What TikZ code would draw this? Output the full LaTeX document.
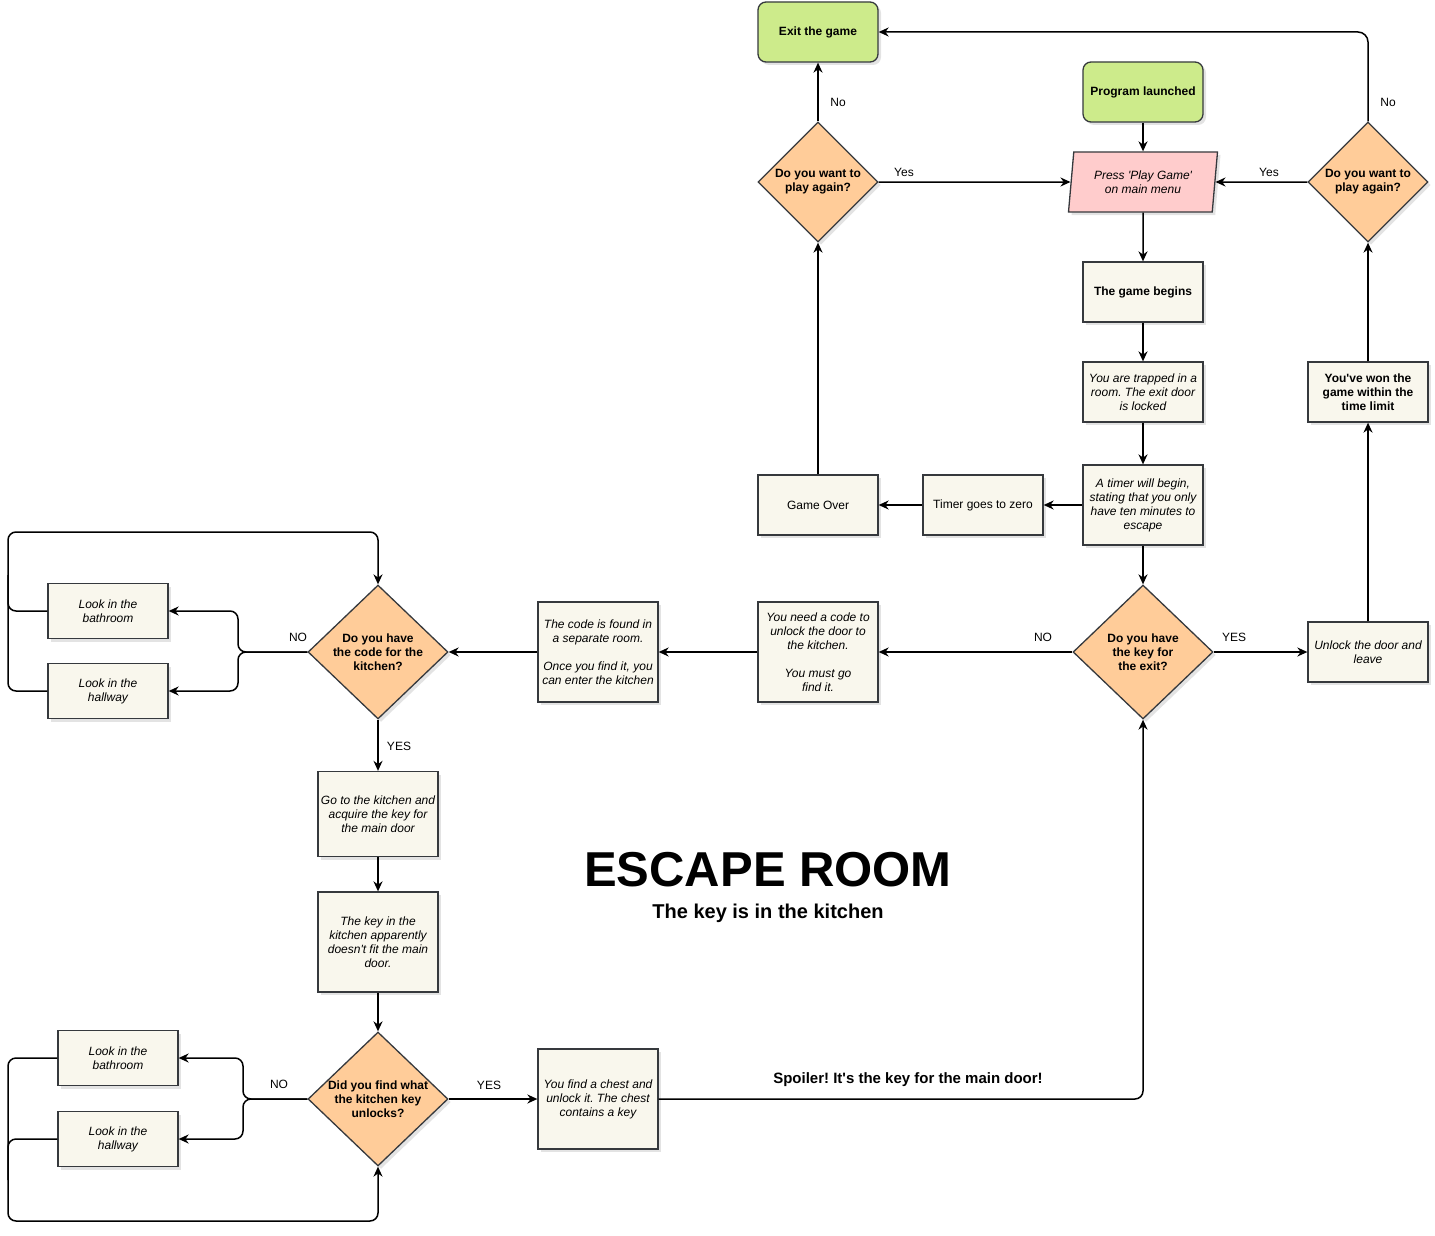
\documentclass[tikz,border=0pt]{standalone}
\usepackage{fontspec}
\setmainfont{Liberation Sans}
\usetikzlibrary{arrows.meta}
\usetikzlibrary{shapes.geometric}
\usetikzlibrary{shadows}

\definecolor{boxfill}{HTML}{F9F7ED}
\definecolor{boxline}{HTML}{36393D}
\definecolor{askfill}{HTML}{FFCC99}
\definecolor{gofill}{HTML}{CDEB8B}
\definecolor{menufill}{HTML}{FFCCCC}

\tikzset{
  base/.style={draw=boxline, line width=1.3pt, align=center,
    drop shadow={shadow xshift=3pt, shadow yshift=-3pt, opacity=0.22}},
  plainbox/.style={base, rectangle, fill=boxfill, minimum width=120pt, minimum height=60pt,
    inner sep=0pt, font=\fontsize{12}{14}\selectfont},
  boldbox/.style={plainbox, font=\fontsize{12}{14}\selectfont\bfseries},
  italbox/.style={plainbox, font=\fontsize{12}{14}\selectfont\itshape},
  terminal/.style={boldbox, fill=gofill, rounded corners=8pt},
  menu/.style={base, trapezium, trapezium left angle=77, trapezium right angle=103,
    trapezium stretches body, fill=menufill, minimum width=149pt, minimum height=60pt,
    inner sep=0pt, font=\fontsize{12}{14}\selectfont\itshape},
  ask/.style={base, diamond, fill=askfill, aspect=1, inner sep=-4pt,
    minimum width=120pt, minimum height=120pt, font=\fontsize{12}{14}\selectfont\bfseries},
  bigask/.style={ask, aspect=1.045, minimum width=140pt, minimum height=134pt},
  lbl/.style={font=\fontsize{12}{14}\selectfont, inner sep=1pt},
  line/.style={draw=black, line width=1.5pt},
  flow/.style={line, -{Stealth[length=10pt, width=9pt]}}
}

\begin{document}
\frenchspacing
\begin{tikzpicture}[x=1pt, y=-1pt]
    \useasboundingbox (0,0) rectangle (1435,1236);

    \node[terminal] (exit) at (818,32) {Exit the game};
    \node[terminal] (launch) at (1143,92) {Program launched};
    \node[menu] (press) at (1143,182) {Press \textquotesingle Play Game\textquotesingle\\on main menu};
    \node[ask] (again1) at (818,182) {Do you want to\\play again?};
    \node[ask] (again2) at (1368,182) {Do you want to\\play again?};
    \node[boldbox] (begins) at (1143,292) {The game begins};
    \node[italbox] (trapped) at (1143,392) {You are trapped in a\\room. The exit door\\is locked};
    \node[italbox, minimum height=80pt] (timer) at (1143,505) {A timer will begin,\\stating that you only\\have ten minutes to\\escape};
    \node[plainbox] (zero) at (983,505) {Timer goes to zero};
    \node[plainbox] (over) at (818,505) {Game Over};
    \node[boldbox] (won) at (1368,392) {You\textquotesingle ve won the\\game within the\\time limit};

    \node[bigask] (keyq) at (1143,652) {Do you have\\the key for\\the exit?};
    \node[italbox] (unlock) at (1368,652) {Unlock the door and\\leave};
    \node[italbox, minimum height=100pt] (needcode) at (818,652) {You need a code to\\unlock the door to\\the kitchen.\\[14pt]You must go\\find it.};
    \node[italbox, minimum height=100pt] (codefound) at (598,652) {The code is found in\\a separate room.\\[14pt]Once you find it, you\\can enter the kitchen};
    \node[bigask] (codeq) at (378,652) {Do you have\\the code for the\\kitchen?};
    \node[italbox, minimum height=55pt] (bath1) at (108,611) {Look in the\\bathroom};
    \node[italbox, minimum height=55pt] (hall1) at (108,691) {Look in the\\hallway};

    \node[italbox, minimum height=85pt] (kitchen) at (378,814) {Go to the kitchen and\\acquire the key for\\the main door};
    \node[italbox, minimum height=100pt] (keyfit) at (378,942) {The key in the\\kitchen apparently\\doesn\textquotesingle t fit the main\\door.};
    \node[bigask] (findq) at (378,1099) {Did you find what\\the kitchen key\\unlocks?};
    \node[italbox, minimum height=55pt] (bath2) at (118,1058) {Look in the\\bathroom};
    \node[italbox, minimum height=55pt] (hall2) at (118,1139) {Look in the\\hallway};
    \node[italbox, minimum height=100pt] (chest) at (598,1099) {You find a chest and\\unlock it. The chest\\contains a key};

    \node[font=\fontsize{49}{56}\selectfont\bfseries] (title) at (768,870) {ESCAPE ROOM};
    \node[font=\fontsize{20}{24}\selectfont\bfseries] (subtitle) at (768,913) {The key is in the kitchen};

    \coordinate (fork1) at (238,652);
    \coordinate (loop1) at (8,532);
    \coordinate (join1) at (8,575);
    \coordinate (fork2) at (243,1099);
    \coordinate (loop2) at (8,1221);
    \coordinate (join2) at (8,1180);

    \draw[flow] (launch) -- (press);
    \draw[flow] (press) -- (begins);
    \draw[flow] (begins) -- (trapped);
    \draw[flow] (trapped) -- (timer);
    \draw[flow] (timer) -- (zero);
    \draw[flow] (zero) -- (over);
    \draw[flow] (over) -- (again1);
    \draw[flow] (again1) -- (exit);
    \draw[flow] (again1) -- (press);
    \draw[flow] (again2) -- (press);
    \draw[flow, rounded corners=10pt] (again2.north) |- (exit.east);
    \draw[flow] (timer) -- (keyq);
    \draw[flow] (keyq) -- (unlock);
    \draw[flow] (unlock) -- (won);
    \draw[flow] (won) -- (again2);
    \draw[flow] (keyq) -- (needcode);
    \draw[flow] (needcode) -- (codefound);
    \draw[flow] (codefound) -- (codeq);
    \draw[flow, rounded corners=8pt] (codeq.west) -- (fork1) |- (bath1.east);
    \draw[flow, rounded corners=8pt] (codeq.west) -- (fork1) |- (hall1.east);
    \draw[flow, rounded corners=8pt] (hall1.west) -| (loop1) -| (codeq.north);
    \draw[line, rounded corners=8pt] (bath1.west) -| (join1);
    \draw[flow] (codeq) -- (kitchen);
    \draw[flow] (kitchen) -- (keyfit);
    \draw[flow] (keyfit) -- (findq);
    \draw[flow, rounded corners=8pt] (findq.west) -- (fork2) |- (bath2.east);
    \draw[flow, rounded corners=8pt] (findq.west) -- (fork2) |- (hall2.east);
    \draw[flow, rounded corners=8pt] (bath2.west) -| (loop2) -| (findq.south);
    \draw[line, rounded corners=8pt] (hall2.west) -| (join2);
    \draw[flow] (findq) -- (chest);
    \draw[flow, rounded corners=8pt] (chest.east) -| (keyq.south);

    \node[lbl] (no1) at (838,102) {No};
    \node[lbl] (yes1) at (904,172) {Yes};
    \node[lbl] (yes2) at (1269,172) {Yes};
    \node[lbl] (no2) at (1388,102) {No};
    \node[lbl] (no3) at (1043,637) {NO};
    \node[lbl] (yes3) at (1234,637) {YES};
    \node[lbl] (no4) at (298,637) {NO};
    \node[lbl] (yes4) at (399,746) {YES};
    \node[lbl] (no5) at (279,1084) {NO};
    \node[lbl] (yes5) at (489,1085) {YES};
    \node[lbl, font=\fontsize{15}{18}\selectfont\bfseries] (spoiler) at (908,1080) {Spoiler! It\textquotesingle s the key for the main door!};
\end{tikzpicture}
\end{document}
